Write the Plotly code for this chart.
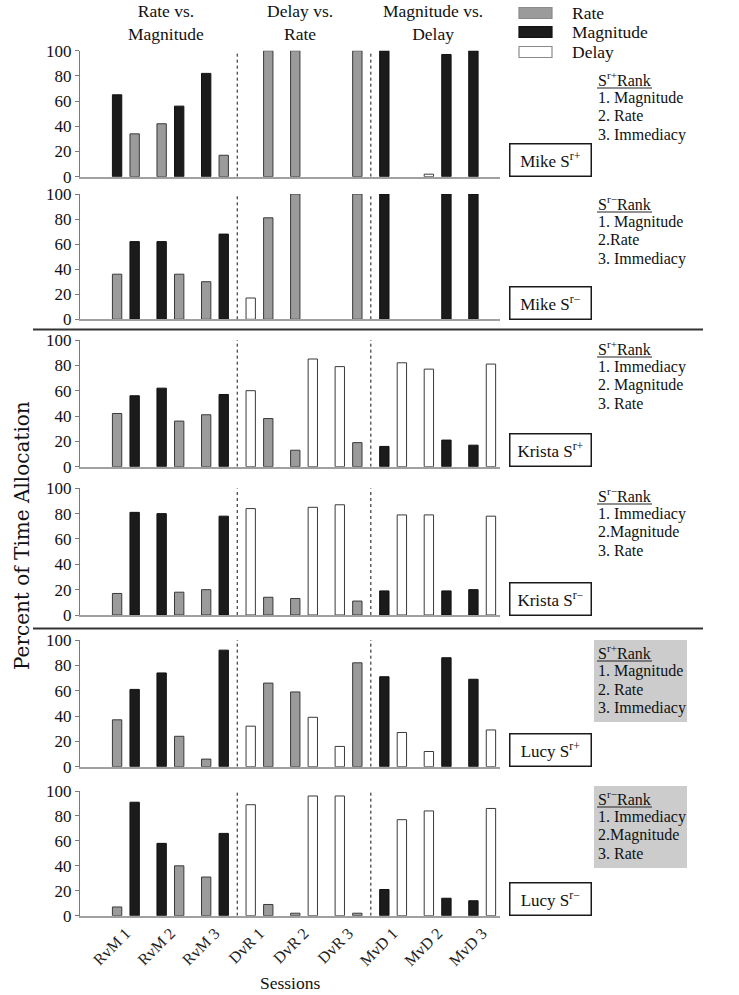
import plotly.graph_objects as go

W, H = 739, 995
SERIF = "Liberation Serif"

sessions = ["RvM 1", "RvM 2", "RvM 3", "DvR 1", "DvR 2", "DvR 3", "MvD 1", "MvD 2", "MvD 3"]

# ---- data: percent of time allocation (None = option not offered that session)
mike_pos_rate = [34, 42, 17, 100, 100, 100, None, None, None]
mike_pos_mag = [65, 56, 82, None, None, None, 100, 97, 100]
mike_pos_delay = [None, None, None, 0, 0, 0, 0, 2, 0]
mike_pos_left = ["M", "R", "M", "D", "R", "D", "M", "D", "M"]

mike_neg_rate = [36, 36, 30, 81, 100, 100, None, None, None]
mike_neg_mag = [62, 62, 68, None, None, None, 100, 100, 100]
mike_neg_delay = [None, None, None, 17, 0, 0, 0, 0, 0]
mike_neg_left = ["R", "M", "R", "D", "R", "D", "M", "D", "M"]

krista_pos_rate = [42, 36, 41, 38, 13, 19, None, None, None]
krista_pos_mag = [56, 62, 57, None, None, None, 16, 21, 17]
krista_pos_delay = [None, None, None, 60, 85, 79, 82, 77, 81]
krista_pos_left = ["R", "M", "R", "D", "R", "D", "M", "D", "M"]

krista_neg_rate = [17, 18, 20, 14, 13, 11, None, None, None]
krista_neg_mag = [81, 80, 78, None, None, None, 19, 19, 20]
krista_neg_delay = [None, None, None, 84, 85, 87, 79, 79, 78]
krista_neg_left = ["R", "M", "R", "D", "R", "D", "M", "D", "M"]

lucy_pos_rate = [37, 24, 6, 66, 59, 82, None, None, None]
lucy_pos_mag = [61, 74, 92, None, None, None, 71, 86, 69]
lucy_pos_delay = [None, None, None, 32, 39, 16, 27, 12, 29]
lucy_pos_left = ["R", "M", "R", "D", "R", "D", "M", "D", "M"]

lucy_neg_rate = [7, 40, 31, 9, 2, 2, None, None, None]
lucy_neg_mag = [91, 58, 66, None, None, None, 21, 14, 12]
lucy_neg_delay = [None, None, None, 89, 96, 96, 77, 84, 86]
lucy_neg_left = ["R", "M", "R", "D", "R", "D", "M", "D", "M"]

panel_labels = ["Mike S<sup>r+</sup>", "Mike S<sup>r\u2212</sup>", "Krista S<sup>r+</sup>",
                "Krista S<sup>r\u2212</sup>", "Lucy S<sup>r+</sup>", "Lucy S<sup>r\u2212</sup>"]
rank_titles = ["S<sup>r+</sup>Rank", "S<sup>r\u2212</sup>Rank", "S<sup>r+</sup>Rank",
               "S<sup>r\u2212</sup>Rank", "S<sup>r+</sup>Rank", "S<sup>r\u2212</sup>Rank"]
rank_lines = [
    ["1. Magnitude", "2. Rate", "3. Immediacy"],
    ["1. Magnitude", "2.Rate", "3. Immediacy"],
    ["1. Immediacy", "2. Magnitude", "3. Rate"],
    ["1. Immediacy", "2.Magnitude", "3. Rate"],
    ["1. Magnitude", "2. Rate", "3. Immediacy"],
    ["1. Immediacy", "2.Magnitude", "3. Rate"],
]
rank_shaded = [False, False, False, False, True, True]

series_names = ["Rate", "Magnitude", "Delay"]
series_keys = ["R", "M", "D"]
panels = [
    (mike_pos_rate, mike_pos_mag, mike_pos_delay, mike_pos_left),
    (mike_neg_rate, mike_neg_mag, mike_neg_delay, mike_neg_left),
    (krista_pos_rate, krista_pos_mag, krista_pos_delay, krista_pos_left),
    (krista_neg_rate, krista_neg_mag, krista_neg_delay, krista_neg_left),
    (lucy_pos_rate, lucy_pos_mag, lucy_pos_delay, lucy_pos_left),
    (lucy_neg_rate, lucy_neg_mag, lucy_neg_delay, lucy_neg_left),
]

# ---- styles / layout (pixels in the target picture)
fills = {"R": "#9b9b9b", "M": "#1b1b1b", "D": "#ffffff"}
lines = {"R": "#3a3a3a", "M": "#111111", "D": "#3a3a3a"}
OFFSET = 0.197
BARW = 0.21
panel_top = [50.7, 194, 340, 488.3, 640, 791]
panel_bot = [176.7, 319.3, 466.7, 615, 766.7, 915.7]
rank_title_y = [79, 203, 348, 495, 652, 798]
X0PX, X1PX = 80, 500
XR = [-1.03, 8.4]
OX, OY = 0, 0  # page offset of the plot div (body margin removed below)


def px(x):
    return (x - OX) / W


def py(y):
    return 1 - (y - OY) / H


fig = go.Figure()
shapes = []
annotations = []

for k, (rate, mag, delay, left) in enumerate(panels):
    ax = "" if k == 0 else str(k + 1)
    vals = {"R": rate, "M": mag, "D": delay}
    for key, name in zip(series_keys, series_names):
        xs, ys, lw = [], [], []
        for i, v in enumerate(vals[key]):
            if v is None:
                continue
            side = -1 if left[i] == key else 1
            xs.append(i + side * OFFSET)
            ys.append(v)
            lw.append(1 if v > 0 else 0)
        fig.add_trace(go.Bar(
            x=xs, y=ys, width=BARW, name=name, showlegend=False,
            marker=dict(color=fills[key], line=dict(color=lines[key], width=lw)),
            xaxis="x" + ax, yaxis="y" + ax, hoverinfo="skip"))

    fig.layout["xaxis" + ax] = dict(
        domain=[px(X0PX), px(X1PX)], range=XR, anchor="y" + ax, automargin=False,
        showline=True, linecolor="#a0a0a0", linewidth=2, showgrid=False, zeroline=False,
        ticks="", tickmode="array", tickvals=list(range(len(sessions))),
        ticktext=sessions, showticklabels=(k == 5), tickangle=-45,
        tickfont=dict(family=SERIF, size=16, color="#222"))
    fig.layout["yaxis" + ax] = dict(
        domain=[py(panel_bot[k]), py(panel_top[k])], range=[0, 100], anchor="x" + ax,
        automargin=False,
        showline=True, linecolor="#7a7a7a", linewidth=1, showgrid=False, zeroline=False,
        ticks="outside", ticklen=4, tickcolor="#7a7a7a",
        tickmode="array", tickvals=[0, 20, 40, 60, 80, 100],
        tickfont=dict(family=SERIF, size=17, color="#111"))

    # dotted condition dividers
    for xd in (2.5, 5.5):
        shapes.append(dict(type="line", xref="x" + ax, yref="y" + ax, x0=xd, x1=xd, y0=0, y1=100,
                           line=dict(color="#111", width=1, dash="dot")))

    # participant label box
    annotations.append(dict(
        xref="paper", yref="paper", x=px(550.5), y=py(panel_bot[k] - 16.5),
        text=panel_labels[k], showarrow=False, width=78, height=29,
        bordercolor="#1a1a1a", borderwidth=1.5, bgcolor="white",
        font=dict(family=SERIF, size=17, color="#111"), xanchor="center", yanchor="middle"))

    # rank block
    ty = rank_title_y[k]
    if rank_shaded[k]:
        shapes.append(dict(type="rect", xref="paper", yref="paper",
                           x0=px(594), x1=px(687), y0=py(ty - 12), y1=py(ty + 70),
                           fillcolor="#cccccc", line=dict(width=0), layer="below"))
    annotations.append(dict(
        xref="paper", yref="paper", x=px(596), y=py(ty), text=rank_titles[k],
        showarrow=False, xanchor="left", yanchor="middle",
        font=dict(family=SERIF, size=16, color="#111")))
    shapes.append(dict(type="line", xref="paper", yref="paper", x0=px(597), x1=px(652),
                       y0=py(ty + 9), y1=py(ty + 9), line=dict(color="#222", width=1)))
    for j, t in enumerate(rank_lines[k]):
        annotations.append(dict(
            xref="paper", yref="paper", x=px(596), y=py(ty + 18.5 * (j + 1)), text=t,
            showarrow=False, xanchor="left", yanchor="middle",
            font=dict(family=SERIF, size=16, color="#111")))

# horizontal participant separators
for ysep in (329.5, 628.5):
    shapes.append(dict(type="line", xref="paper", yref="paper", x0=px(33), x1=px(703),
                       y0=py(ysep), y1=py(ysep), line=dict(color="#333", width=2)))

# condition headers
headers = [(1, "Rate vs.<br>Magnitude"), (4, "Delay vs.<br>Rate"), (7, "Magnitude vs.<br>Delay")]
for xh, t in headers:
    annotations.append(dict(xref="x", yref="paper", x=xh - 0.1, y=py(22), text=t, showarrow=False,
                            xanchor="center", yanchor="middle",
                            font=dict(family=SERIF, size=17.5, color="#111")))

# legend
legend_y = [13, 32, 52]
for key, name, ly in zip(series_keys, series_names, legend_y):
    shapes.append(dict(type="rect", xref="paper", yref="paper", x0=px(519), x1=px(552),
                       y0=py(ly + 5.5), y1=py(ly - 5.5), fillcolor=fills[key],
                       line=dict(color="#8a8a8a" if key != "M" else "#111", width=1.2)))
    annotations.append(dict(xref="paper", yref="paper", x=px(570), y=py(ly), text=name,
                            showarrow=False, xanchor="left", yanchor="middle",
                            font=dict(family=SERIF, size=17.5, color="#111")))

# axis titles
annotations.append(dict(xref="paper", yref="paper", x=px(22), y=py(536),
                        text="Percent of Time Allocation", textangle=-90, showarrow=False,
                        xanchor="center", yanchor="middle",
                        font=dict(family="DejaVu Serif", size=20, color="#111")))
annotations.append(dict(xref="paper", yref="paper", x=px(290), y=py(983), text="Sessions",
                        showarrow=False, xanchor="center", yanchor="middle",
                        font=dict(family=SERIF, size=17.5, color="#111")))

fig.update_layout(
    width=W, height=H, margin=dict(l=0, r=0, t=0, b=0),
    paper_bgcolor="white", plot_bgcolor="white", barmode="overlay",
    shapes=shapes, annotations=annotations, showlegend=False)

fig.write_html("out.html", config={"displayModeBar": False},
               post_script="document.body.style.margin='0px';")
